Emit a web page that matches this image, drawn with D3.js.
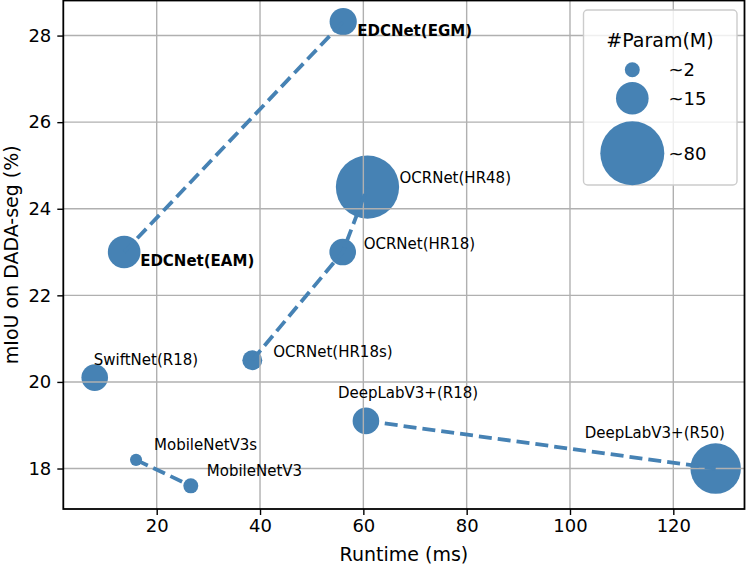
<!DOCTYPE html>
<html>
<head>
<meta charset="utf-8">
<script src="https://cdn.jsdelivr.net/npm/d3@7"></script>
<style>
  body { margin: 0; background: #fff; }
  text { font-family: "DejaVu Sans", sans-serif; }
</style>
</head>
<body>
<script>
let w = 747;
let h = 567;

// data
var models  = ["EDCNet(EGM)", "EDCNet(EAM)", "OCRNet(HR48)", "OCRNet(HR18)", "OCRNet(HR18s)",
               "SwiftNet(R18)", "DeepLabV3+(R18)", "DeepLabV3+(R50)", "MobileNetV3s", "MobileNetV3"];
var runtime = [56.1, 13.7, 60.8, 56.0, 38.5, 8.0, 60.5, 128.2, 16.0, 26.6];
var miou    = [28.32, 23.0, 24.5, 23.0, 20.5, 20.1, 19.1, 18.0, 18.2, 17.6];
var params  = [10, 15, 78, 9.5, 4.7, 9.5, 9.5, 47, 0.8, 2];
var ours    = ["EDCNet(EGM)", "EDCNet(EAM)"];
var groups  = [
    ["EDCNet(EAM)", "EDCNet(EGM)"],
    ["OCRNet(HR18s)", "OCRNet(HR18)", "OCRNet(HR48)"],
    ["DeepLabV3+(R18)", "DeepLabV3+(R50)"],
    ["MobileNetV3s", "MobileNetV3"]
];
var xTicks = [20, 40, 60, 80, 100, 120];
var yTicks = [18, 20, 22, 24, 26, 28];
var legendSizes = [2, 15, 80];
var legendLabels = ["~2", "~15", "~80"];

// label placement, pixels relative to the marker
var labelOffset = {
    "EDCNet(EGM)": [14, 14],
    "EDCNet(EAM)": [16, 14],
    "OCRNet(HR48)": [32, -4],
    "OCRNet(HR18)": [21, -3.5],
    "OCRNet(HR18s)": [21, -3.5],
    "SwiftNet(R18)": [-1, -13],
    "DeepLabV3+(R18)": [-28, -22.5],
    "DeepLabV3+(R50)": [-131, -31],
    "MobileNetV3s": [18, -9.5],
    "MobileNetV3": [16, -9.5]
};

var color = "#4682b4";
var mLeft = 63.3, mRight = 744.5, mTop = 0.5, mBottom = 509;

var x = d3.scaleLinear().domain([1.92, 133.78]).range([mLeft, mRight]);
var y = d3.scaleLinear().domain([17.065, 28.81]).range([mBottom, mTop]);
// marker area (px^2) by #params
var area = d3.scaleLinear().domain([2, 15, 80]).range([56, 266, 1024]);
var r = (p) => Math.sqrt(area(p));

var data = models.map((m, i) => ({name: m, x: runtime[i], y: miou[i], p: params[i]}));
var byName = {};
data.forEach(d => byName[d.name] = d);

var svg = d3.select("body").append("svg")
    .attr("width", w)
    .attr("height", h);

// points (under the grid, like matplotlib)
svg.append("g").selectAll("circle").data(data).enter().append("circle")
    .attr("cx", d => x(d.x))
    .attr("cy", d => y(d.y))
    .attr("r", d => r(d.p))
    .attr("fill", color);

// grid
var grid = svg.append("g").attr("stroke", "#b0b0b0").attr("stroke-width", 1.4);
grid.selectAll(".gx").data(xTicks).enter().append("line")
    .attr("x1", d => x(d)).attr("x2", d => x(d))
    .attr("y1", mTop).attr("y2", mBottom);
grid.selectAll(".gy").data(yTicks).enter().append("line")
    .attr("y1", d => y(d)).attr("y2", d => y(d))
    .attr("x1", mLeft).attr("x2", mRight);

// dashed connections
var line = d3.line().x(d => x(d.x)).y(d => y(d.y));
svg.append("g").selectAll("path").data(groups).enter().append("path")
    .attr("d", g => line(g.map(n => byName[n])))
    .attr("fill", "none")
    .attr("stroke", color)
    .attr("stroke-width", 3.8)
    .attr("stroke-dasharray", "13,6");

// labels
svg.append("g").selectAll("text").data(data).enter().append("text")
    .attr("x", d => x(d.x) + labelOffset[d.name][0])
    .attr("y", d => y(d.y) + labelOffset[d.name][1])
    .attr("font-size", 15)
    .attr("font-weight", d => ours.includes(d.name) ? "bold" : "normal")
    .text(d => d.name);

// axes
var xAxis = d3.axisBottom(x).tickValues(xTicks).tickSizeInner(6).tickSizeOuter(0).tickPadding(4);
var yAxis = d3.axisLeft(y).tickValues(yTicks).tickSizeInner(6).tickSizeOuter(0).tickPadding(6);
var gx = svg.append("g").attr("transform", `translate(0,${mBottom})`).call(xAxis);
var gy = svg.append("g").attr("transform", `translate(${mLeft},0)`).call(yAxis);
[gx, gy].forEach(g => {
    g.select(".domain").remove();
    g.selectAll("line").attr("stroke", "#000").attr("stroke-width", 1.4);
    g.selectAll("text").attr("font-size", 18).attr("fill", "#000")
        .attr("font-family", "DejaVu Sans");
});

// spines
svg.append("rect")
    .attr("x", mLeft).attr("y", mTop)
    .attr("width", mRight - mLeft).attr("height", mBottom - mTop)
    .attr("fill", "none").attr("stroke", "#000").attr("stroke-width", 1.8);

svg.append("text")
    .attr("x", (mLeft + mRight) / 2).attr("y", 561)
    .attr("text-anchor", "middle").attr("font-size", 19)
    .text("Runtime (ms)");

svg.append("text")
    .attr("transform", `translate(18,${(mTop + mBottom) / 2}) rotate(-90)`)
    .attr("text-anchor", "middle").attr("font-size", 19)
    .text("mIoU on DADA-seg (%)");

// size legend
var lg = svg.append("g");
lg.append("rect")
    .attr("x", 583.5).attr("y", 10)
    .attr("width", 153.5).attr("height", 175)
    .attr("rx", 4)
    .attr("fill", "#fff").attr("fill-opacity", 0.8)
    .attr("stroke", "#cccccc").attr("stroke-width", 1.4);
lg.append("text")
    .attr("x", 660).attr("y", 47)
    .attr("text-anchor", "middle").attr("font-size", 19)
    .text("#Param(M)");
var legendY = [69.7, 98.3, 153.3];
lg.selectAll("circle").data(legendSizes).enter().append("circle")
    .attr("cx", 632.3)
    .attr("cy", (d, i) => legendY[i])
    .attr("r", d => r(d))
    .attr("fill", color);
lg.selectAll(".ll").data(legendLabels).enter().append("text")
    .attr("x", 668.5)
    .attr("y", (d, i) => legendY[i] + 6.5)
    .attr("font-size", 18)
    .text(d => d);
</script>
</body>
</html>
